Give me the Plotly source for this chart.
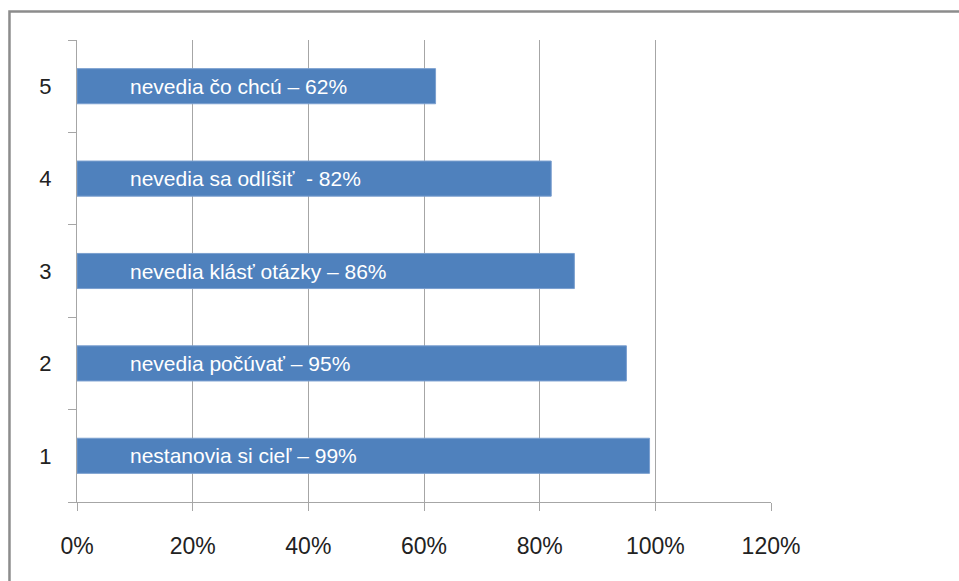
import plotly.graph_objects as go

categories = ["1", "2", "3", "4", "5"]
values = [0.99, 0.95, 0.86, 0.82, 0.62]
bar_labels = [
    "nestanovia si cieľ – 99%",
    "nevedia počúvať – 95%",
    "nevedia klásť otázky – 86%",
    "nevedia sa odlíšiť\u00a0\u00a0- 82%",
    "nevedia čo chcú – 62%",
]
x_ticks = [0, 0.2, 0.4, 0.6, 0.8, 1.0, 1.2]
x_tick_text = ["0%", "20%", "40%", "60%", "80%", "100%", "120%"]

GRID = "#a6a6a6"

fig = go.Figure()
fig.add_trace(go.Bar(
    y=categories, x=values, orientation="h",
    marker=dict(color="#4f81bd", line=dict(color="#7a9fcf", width=1)),
    width=0.38, hoverinfo="skip",
))

for i, lab in enumerate(bar_labels):
    fig.add_annotation(
        x=0, y=i, xref="x", yref="y", text=lab, showarrow=False,
        xanchor="left", yanchor="middle", xshift=51,
        font=dict(family="Liberation Sans, Arial", size=21, color="white"),
    )

# outer frame
fig.add_shape(type="rect", xref="paper", yref="paper",
              x0=-0.0973, x1=1.4, y0=-0.4, y1=1.0617,
              line=dict(color="#8c8c8c", width=2.5), fillcolor="rgba(0,0,0,0)",
              layer="below")

fig.update_layout(
    width=959, height=581,
    margin=dict(l=77, r=188, t=40, b=79),
    paper_bgcolor="white", plot_bgcolor="white",
    showlegend=False,
    xaxis=dict(
        range=[0, 1.2], tickvals=x_ticks, ticktext=x_tick_text,
        showgrid=True, gridcolor=GRID, gridwidth=1.3,
        showline=True, linecolor=GRID, linewidth=1.3,
        ticks="outside", ticklen=8, tickcolor=GRID, tickwidth=1.3,
        zeroline=False, fixedrange=True,
        tickfont=dict(family="Liberation Sans, Arial", size=23, color="#222"),
        ticklabelstandoff=15,
    ),
    yaxis=dict(
        type="category", categoryorder="array", categoryarray=categories,
        range=[-0.5, 4.5],
        showgrid=False, showline=True, linecolor=GRID, linewidth=1.3,
        ticks="outside", ticklen=8, tickcolor=GRID, tickwidth=1.3,
        tickson="boundaries",
        tickfont=dict(family="Liberation Sans, Arial", size=22, color="#222"),
        ticklabelstandoff=20,
        fixedrange=True,
    ),
)

fig.write_html("out.html")
